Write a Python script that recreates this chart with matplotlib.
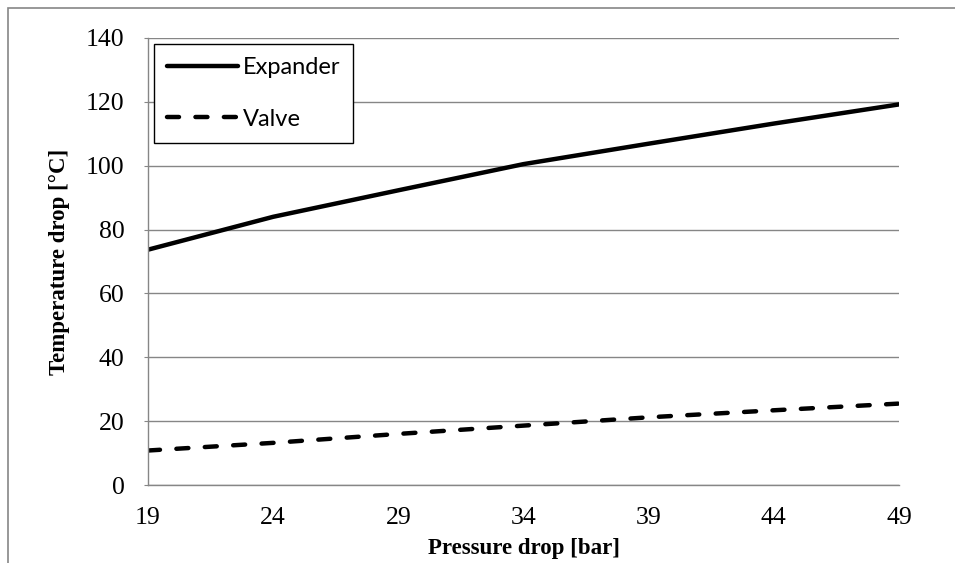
import matplotlib.pyplot as plt
from matplotlib.patches import Rectangle

# data
pressure_drop = [19, 24, 29, 34, 39, 44, 49]
expander_dT = [73.7, 84.0, 92.3, 100.5, 106.9, 113.2, 119.2]
valve_dT = [10.8, 13.2, 16.0, 18.6, 21.2, 23.4, 25.5]

x_ticks = [19, 24, 29, 34, 39, 44, 49]
y_ticks = [0, 20, 40, 60, 80, 100, 120, 140]

grid_col = '#868686'
serif = ['Liberation Serif', 'DejaVu Serif']

fig = plt.figure(figsize=(9.55, 5.63), dpi=100)
ax = fig.add_axes([148 / 955, 78 / 563, 751 / 955, 447 / 563])

# outer chart border (cropped on right and bottom)
fig.patches.append(Rectangle((8 / 955, -0.1), 1.2, 1 - 8 / 563 + 0.1,
                             transform=fig.transFigure, fill=False,
                             edgecolor=grid_col, linewidth=1.2))

ax.plot(pressure_drop, expander_dT, color='black', linewidth=3.2,
        solid_capstyle='round', label='Expander')
ax.plot(pressure_drop, valve_dT, color='black', linewidth=3.2,
        dashes=(2.7, 3.7), dash_capstyle='round', label='Valve')

ax.set_xlim(19, 49)
ax.set_ylim(0, 140)
ax.set_xticks(x_ticks)
ax.set_yticks(y_ticks)
ax.yaxis.grid(True, color=grid_col, linewidth=1.0)
ax.set_axisbelow(True)

for s in ['top', 'right']:
    ax.spines[s].set_visible(False)
for s in ['left', 'bottom']:
    ax.spines[s].set_color(grid_col)
    ax.spines[s].set_linewidth(1.0)

ax.tick_params(axis='y', length=3, color=grid_col, pad=14)
ax.tick_params(axis='x', length=0, pad=16)
for lab in ax.get_xticklabels() + ax.get_yticklabels():
    lab.set_family(serif)
    lab.set_fontsize(18.5)

ax.set_xlabel('Pressure drop [bar]', family=serif, fontsize=16.5,
              fontweight='bold', labelpad=6)
ax.set_ylabel('Temperature drop [°C]', family=serif, fontsize=16.5,
              fontweight='bold', labelpad=11)

leg = ax.legend(loc='upper left', prop={'family': 'Lato', 'size': 17},
                handlelength=3.0, handletextpad=0.2, labelspacing=1.3,
                borderaxespad=0.25, fancybox=False, framealpha=1,
                borderpad=0.55)
leg.get_frame().set_edgecolor('black')
leg.get_frame().set_linewidth(1.0)

plt.savefig('out.png', dpi=100)
